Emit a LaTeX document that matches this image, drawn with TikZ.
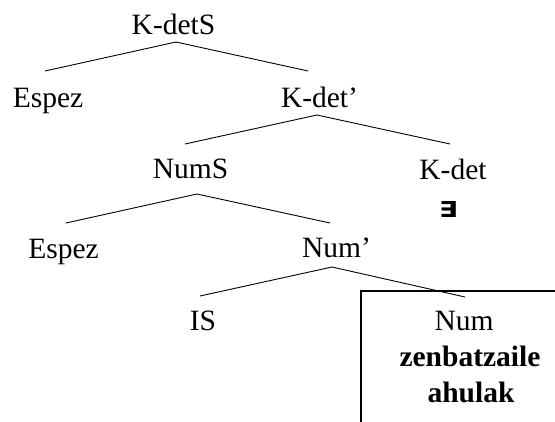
\documentclass[tikz,border=0pt]{standalone}
\usepackage{fontspec}
\setmainfont{Liberation Serif}
\newfontfamily\symfont{DejaVu Sans}
\begin{document}
\begin{tikzpicture}[x=1pt,y=-1pt,
  lbl/.style={anchor=base,inner sep=0pt,font=\fontsize{29.5}{35}\selectfont},
  blbl/.style={anchor=base,inner sep=0pt,font=\fontsize{29.5}{35}\selectfont\bfseries},
  sym/.style={anchor=base,inner sep=0pt,transform shape,xscale=1.25,font=\symfont\bfseries\fontsize{22}{26}\selectfont},
  edge/.style={line width=0.9pt},
  boxline/.style={line width=1.4pt}]
\useasboundingbox (0,0) rectangle (555,421);
% box
\draw[boxline] (556,291) -- (361,291) -- (361,422);
% nodes
\node[lbl] (ks) at (173.5,34) {K-detS};
\node[lbl] (e1) at (48,107) {Espez};
\node[lbl] (kb) at (319.5,107) {K-det’};
\node[lbl] (ns) at (190.5,178) {NumS};
\node[lbl] (kd) at (453,179) {K-det};
\node[sym] (ex) at (448.5,217) {∃};
\node[lbl] (e2) at (63.5,258) {Espez};
\node[lbl] (nb) at (336.5,257) {Num’};
\node[lbl] (is) at (203,330) {IS};
\node[lbl] (num) at (464,330) {Num};
\node[blbl] (zb) at (470,366) {zenbatzaile};
\node[blbl] (ah) at (471,402) {ahulak};
% edges
\draw[edge] ([shift={(-3,-36)}]e1.base) -- ([shift={(2.5,8)}]ks.base) -- ([shift={(-11.5,-36)}]kb.base);
\draw[edge] ([shift={(-5.5,-34)}]ns.base) -- ([shift={(-2.5,8)}]kb.base) -- ([shift={(-3,-35)}]kd.base);
\draw[edge] ([shift={(2.5,-35)}]e2.base) -- ([shift={(6.5,16)}]ns.base) -- ([shift={(-6.5,-34)}]nb.base);
\draw[edge] ([shift={(-3,-34)}]is.base) -- ([shift={(-4.5,10)}]nb.base) -- ([shift={(1,-33)}]num.base);
\end{tikzpicture}
\end{document}
